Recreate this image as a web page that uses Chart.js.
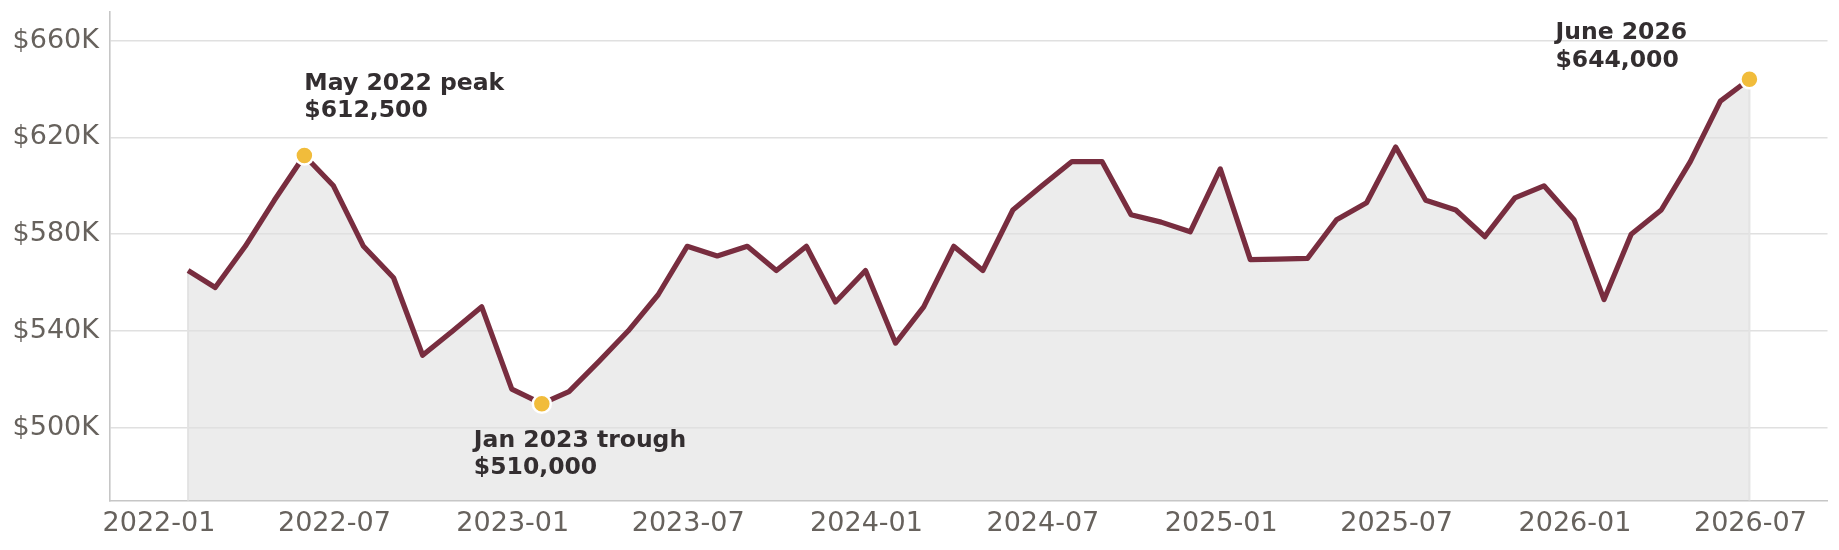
<!DOCTYPE html>
<html>
<head>
<meta charset="utf-8">
<script src="https://cdn.jsdelivr.net/npm/chart.js@4.4.1/dist/chart.umd.min.js"></script>
<style>
  html, body { margin: 0; padding: 0; background: #ffffff; }
  #wrap { width: 1839px; height: 550px; }
</style>
</head>
<body>
<div id="wrap"><canvas id="c" width="1839" height="550"></canvas></div>
<script>
// ---------- DATA ----------
const months = [
  '2022-01','2022-02','2022-03','2022-04','2022-05','2022-06','2022-07','2022-08','2022-09','2022-10','2022-11','2022-12',
  '2023-01','2023-02','2023-03','2023-04','2023-05','2023-06','2023-07','2023-08','2023-09','2023-10','2023-11','2023-12',
  '2024-01','2024-02','2024-03','2024-04','2024-05','2024-06','2024-07','2024-08','2024-09','2024-10','2024-11','2024-12',
  '2025-01','2025-02','2025-03','2025-04','2025-05','2025-06','2025-07','2025-08','2025-09','2025-10','2025-11','2025-12',
  '2026-01','2026-02','2026-03','2026-04','2026-05','2026-06'
];
const prices = [
  565000, 558000, 575000, 594000, 612500, 600000, 575000, 562000, 530000, 540000, 550000, 516000,
  510000, 515000, 527500, 540000, 555000, 575000, 571000, 575000, 565000, 575000, 552000, 565000,
  535000, 550000, 575000, 565000, 590000, 600000, 610000, 610000, 588000, 585000, 581000, 607000,
  569500, 569700, 570000, 586000, 593000, 616000, 594000, 590000, 579000, 595000, 600000, 586000,
  553000, 580000, 590000, 610000, 635000, 644000
];
const xTickLabels = ['2022-01','2022-07','2023-01','2023-07','2024-01','2024-07','2025-01','2025-07','2026-01','2026-07'];
const yTickValues = [500000, 540000, 580000, 620000, 660000];
const highlightIdx = [4, 12, 53];
const highlightText = [
  ['May 2022 peak', '$612,500'],
  ['Jan 2023 trough', '$510,000'],
  ['June 2026', '$644,000']
];

// ---------- helpers ----------
const DAY = 86400000;
const ORIGIN = Date.UTC(2022, 0, 1);
function monthStartDay(s) { const [y, m] = s.split('-').map(Number); return (Date.UTC(y, m - 1, 1) - ORIGIN) / DAY; }
function monthEndDay(s) { const [y, m] = s.split('-').map(Number); return (Date.UTC(y, m, 0) - ORIGIN) / DAY; }

const points = months.map((mo, i) => ({ x: monthEndDay(mo), y: prices[i] }));
const xFirst = points[0].x, xLast = points[points.length - 1].x;
const xPad = (xLast - xFirst) * 0.05;
const tickMap = {};
xTickLabels.forEach(l => { tickMap[monthStartDay(l)] = l; });

// ---------- style ----------
const FONT = "'DejaVu Sans', sans-serif";
const LINE = '#782d3f';
const GOLD = '#f1bc3b';
const TICK_COLOR = '#67625d';
const TEXT_COLOR = '#332e30';
const SPINE = '#c6c6c6';
const GRID = '#e0e0e0';

const annotOffsets = [
  { dx: 0, dy: -66 },
  { dx: -68, dy: 43 },
  { dx: -194, dy: -40 }
];

const annotPlugin = {
  id: 'annot',
  beforeDatasetsDraw(chart) {
    const { ctx, chartArea } = chart;
    const meta = chart.getDatasetMeta(0);
    ctx.save();
    ctx.strokeStyle = '#e4e4e4';
    ctx.lineWidth = 2;
    [0, meta.data.length - 1].forEach(i => {
      const p = meta.data[i];
      ctx.beginPath();
      ctx.moveTo(p.x, p.y);
      ctx.lineTo(p.x, chartArea.bottom);
      ctx.stroke();
    });
    ctx.restore();
  },
  afterDatasetsDraw(chart) {
    const { ctx } = chart;
    const meta = chart.getDatasetMeta(0);
    ctx.save();
    ctx.font = 'bold 23.5px ' + FONT;
    ctx.fillStyle = TEXT_COLOR;
    ctx.textAlign = 'left';
    ctx.textBaseline = 'alphabetic';
    highlightIdx.forEach((idx, k) => {
      const p = meta.data[idx];
      const o = annotOffsets[k];
      highlightText[k].forEach((line, j) => {
        ctx.fillText(line, p.x + o.dx, p.y + o.dy + j * 27.5);
      });
    });
    ctx.restore();
  }
};

new Chart(document.getElementById('c'), {
  type: 'line',
  data: {
    datasets: [{
      data: points,
      borderColor: LINE,
      borderWidth: 5.2,
      backgroundColor: 'rgba(224,224,224,0.62)',
      fill: 'start',
      tension: 0,
      borderJoinStyle: 'round',
      borderCapStyle: 'butt',
      pointRadius: ctx => highlightIdx.includes(ctx.dataIndex) ? 9 : 0,
      pointHoverRadius: ctx => highlightIdx.includes(ctx.dataIndex) ? 9 : 0,
      pointBackgroundColor: GOLD,
      pointBorderColor: '#ffffff',
      pointBorderWidth: 2.5,
      clip: false
    }]
  },
  options: {
    responsive: false,
    animation: false,
    devicePixelRatio: 1,
    layout: { padding: { top: 10.9, right: 9.7, left: 0, bottom: 0 } },
    plugins: { legend: { display: false }, tooltip: { enabled: false } },
    scales: {
      x: {
        type: 'linear',
        min: xFirst - xPad,
        max: xLast + xPad,
        afterBuildTicks: s => { s.ticks = xTickLabels.map(l => ({ value: monthStartDay(l) })); },
        afterFit: s => { s.height = 49.5; s.paddingLeft = 0; s.paddingRight = 0; },
        grid: { display: false, drawTicks: false },
        border: { display: true, color: SPINE, width: 1.6 },
        ticks: {
          autoSkip: false,
          maxRotation: 0,
          padding: 7,
          color: TICK_COLOR,
          font: { family: FONT, size: 27 },
          callback: v => tickMap[v] || ''
        }
      },
      y: {
        type: 'linear',
        min: 470000,
        max: 672000,
        afterBuildTicks: s => { s.ticks = yTickValues.map(v => ({ value: v })); },
        afterFit: s => { s.width = 110; s.paddingTop = 0; s.paddingBottom = 0; },
        grid: { color: GRID, lineWidth: 1.5, drawTicks: false },
        border: { display: true, color: SPINE, width: 1.6 },
        ticks: {
          padding: 11,
          color: TICK_COLOR,
          font: { family: FONT, size: 27 },
          callback: v => '$' + Math.round(v / 1000) + 'K'
        }
      }
    }
  },
  plugins: [annotPlugin]
});
</script>
</body>
</html>
